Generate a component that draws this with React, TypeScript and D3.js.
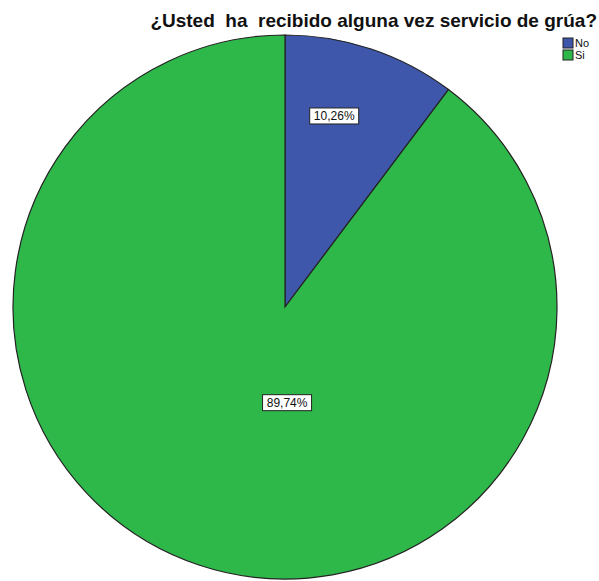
import React from "react";
import * as d3 from "d3";

const categories = ["No", "Si"];
const values = [10.26, 89.74];
const labels = ["10,26%", "89,74%"];
const colors = ["#3f57aa", "#2fb84a"];
const title = "¿Usted  ha  recibido alguna vez servicio de grúa?";

const W = 599, H = 581;
const cx = 285, cy = 307, R = 272;
// label placement (fraction of slice span, fraction of radius)
const labelPos = [
  { f: 0.39, r: 0.727 },
  { f: 0.439, r: 0.35 },
];

export default function App() {
  const pie = d3.pie<number>().sort(null).value((d) => d)(values);
  const arc = d3.arc<d3.PieArcDatum<number>>().innerRadius(0).outerRadius(R);
  return (
    <svg width={W} height={H} style={{ position: "absolute", left: 0, top: 0 }}>
      <rect width={W} height={H} fill="#fff" />
      <text x={597} y={27} textAnchor="end" xmlSpace="preserve" style={{ whiteSpace: "pre" }} fontFamily="Liberation Sans, Arial, sans-serif" fontWeight="bold" fontSize={19} fill="#111">
        {title}
      </text>
      <g transform={`translate(${cx},${cy})`}>
        {pie.map((p, i) => (
          <path key={i} d={arc(p) || ""} fill={colors[i]} stroke="#222" strokeWidth={1.2} />
        ))}
        {pie.map((p, i) => {
          const a = p.startAngle + labelPos[i].f * (p.endAngle - p.startAngle);
          const [x, y] = d3.pointRadial(a, labelPos[i].r * R);
          const w = 45, h = 15;
          return (
            <g key={"l" + i} transform={`translate(${x},${y})`}>
              <rect x={-w / 2 - 2} y={-h / 2} width={w + 4} height={h + 1} fill="#fff" stroke="#222" strokeWidth={1} />
              <text x={0} y={4.5} textAnchor="middle" fontFamily="Liberation Sans, Arial, sans-serif" fontSize={12} fill="#111">
                {labels[i]}
              </text>
            </g>
          );
        })}
      </g>
      {categories.map((c, i) => (
        <g key={"lg" + i} transform={`translate(563,${38 + i * 12})`}>
          <rect x={0} y={0} width={10} height={10} fill={colors[i]} stroke="#222" strokeWidth={1} />
          <text x={12} y={9} fontFamily="Liberation Sans, Arial, sans-serif" fontSize={11} fill="#111">
            {c}
          </text>
        </g>
      ))}
    </svg>
  );
}
